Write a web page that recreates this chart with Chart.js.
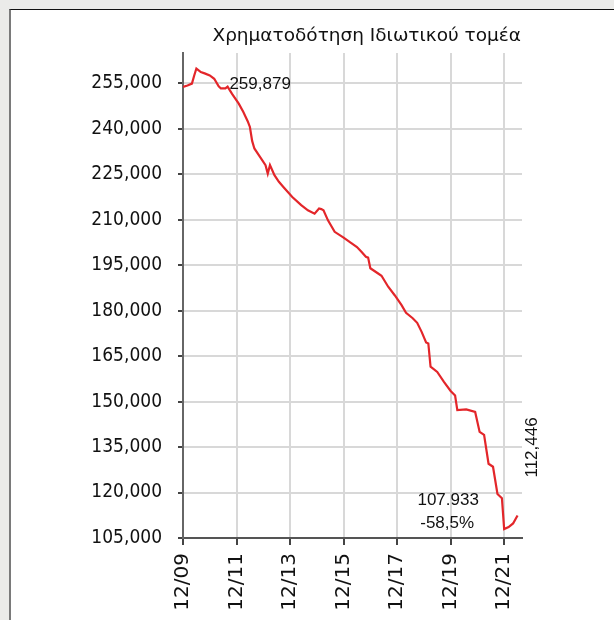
<!DOCTYPE html>
<html>
  <head>
    <meta charset="utf-8">
    <script src="https://cdn.jsdelivr.net/npm/chart.js@4.4.0/dist/chart.umd.min.js"></script>
    <style>
      body { margin: 0; background: #ebebe9; overflow: hidden; }
      #panel { position: absolute; left: 9px; top: 9px; right: 0; bottom: 0; background: #fff;
               border-left: 2px solid #7a7a7a; border-top: 1px solid #111; }
      #wrap { position: absolute; left: 0; top: 0; width: 614px; height: 620px; }
    </style>
  </head>

  <body>
    <div id="panel"></div>
    <div id="wrap">
      <canvas id="canvas" width="614" height="620"></canvas>
    </div>
    <script>
      // credit to the private sector, million euro
      const months = [
        '2009-12', '2010-02', '2010-04', '2010-05', '2010-06', '2010-08', '2010-10', '2010-12',
        '2011-02', '2011-04', '2011-05', '2011-07', '2011-08', '2011-10', '2012-01', '2012-03',
        '2012-05', '2012-06', '2012-07', '2012-08', '2012-10', '2013-01', '2013-02', '2013-03',
        '2013-05', '2013-07', '2013-09', '2014-01', '2014-05', '2014-08', '2014-11', '2015-01',
        '2015-02', '2015-03', '2015-05', '2015-08', '2015-12', '2016-03', '2016-06', '2016-08',
        '2016-10', '2016-11', '2016-12', '2017-03', '2017-05', '2017-08', '2017-11', '2018-02',
        '2018-04', '2018-07', '2018-09', '2018-11', '2019-01', '2019-02', '2019-03', '2019-06',
        '2019-09', '2019-12', '2020-02', '2020-03', '2020-07', '2020-11', '2021-01', '2021-03',
        '2021-05', '2021-07', '2021-09', '2021-11', '2021-12', '2022-02', '2022-04', '2022-06',
      ];
      const credit = [
        253800, 254300, 254900, 257500, 259879, 258700, 258200, 257600,
        256500, 254000, 253300, 253300, 253900, 251500, 248300, 245600,
        242500, 240600, 236000, 233500, 231300, 228000, 225200, 228000,
        224700, 222500, 220800, 217500, 214800, 213100, 212000, 213700,
        213500, 213100, 209800, 206000, 204100, 202500, 201000, 199400,
        197800, 197500, 194000, 192500, 191500, 187900, 185000, 181800,
        179300, 177500, 176000, 173000, 169500, 169200, 161500, 159800,
        156500, 153500, 152000, 147200, 147400, 146600, 140000, 139000,
        129500, 128500, 119500, 118100, 107933, 108600, 109800, 112446,
      ];
      const xTickMonths = ['2009-12', '2011-12', '2013-12', '2015-12', '2017-12', '2019-12', '2021-12'];
      const yTicks = [105000, 120000, 135000, 150000, 165000, 180000, 195000, 210000, 225000, 240000, 255000];
      const title = 'Χρηματοδότηση Ιδιωτικού τομέα';
      const peakText = '259,879';
      const lowText = ['107.933', '-58,5%'];
      const lastText = '112,446';

      function monthIndex(s) {
        const [y, m] = s.split('-').map(Number);
        return (y - 2009) * 12 + (m - 12);
      }
      function monthLabel(idx) {
        const total = 2009 * 12 + 11 + idx;
        const y = Math.floor(total / 12), m = (total % 12) + 1;
        return String(m).padStart(2, '0') + '/' + String(y % 100).padStart(2, '0');
      }

      const points = months.map((d, i) => ({ x: monthIndex(d), y: credit[i] }));
      const peakIdx = credit.indexOf(Math.max(...credit));
      const lowIdx = credit.indexOf(Math.min(...credit));
      const lastIdx = credit.length - 1;

      const textColor = '#111';

      // title and value labels
      const notes = {
        id: 'notes',
        afterDatasetsDraw(chart) {
          const { ctx, chartArea, scales } = chart;
          const px = (i) => scales.x.getPixelForValue(points[i].x);
          const py = (i) => scales.y.getPixelForValue(points[i].y);
          ctx.save();
          ctx.fillStyle = textColor;
          ctx.textBaseline = 'alphabetic';

          ctx.font = '18.5px "DejaVu Sans"';
          ctx.textAlign = 'right';
          ctx.fillText(title, chartArea.right - 1, 41);

          ctx.font = '17px "Liberation Sans"';
          ctx.textAlign = 'left';
          ctx.fillText(peakText, px(peakIdx) + 33, py(peakIdx) + 20);

          ctx.textAlign = 'center';
          ctx.fillText(lowText[0], px(lowIdx) - 56, py(lowIdx) - 24);
          ctx.fillText(lowText[1], px(lowIdx) - 57, py(lowIdx) - 1);

          ctx.translate(px(lastIdx) + 15, py(lastIdx) - 68);
          ctx.rotate(-Math.PI / 2);
          ctx.textBaseline = 'middle';
          ctx.fillText(lastText, 0, 0);
          ctx.restore();
        },
      };

      new Chart(document.getElementById('canvas').getContext('2d'), {
        type: 'line',
        data: {
          datasets: [
            {
              data: points,
              borderColor: '#e3262a',
              borderWidth: 2.2,
              pointRadius: 0,
              tension: 0,
              fill: false,
            },
          ],
        },
        options: {
          responsive: false,
          animation: false,
          layout: {
            padding: { top: 53, right: 92, bottom: 0, left: 0 },
          },
          plugins: {
            legend: { display: false },
            tooltip: { enabled: false },
          },
          scales: {
            x: {
              type: 'linear',
              min: 0,
              max: 152,
              afterBuildTicks: (s) => {
                s.ticks = xTickMonths.map((d) => ({ value: monthIndex(d) }));
              },
              afterFit: (s) => {
                s.height = 82;
              },
              ticks: {
                autoSkip: false,
                minRotation: 90,
                maxRotation: 90,
                padding: 8,
                color: textColor,
                font: { family: 'DejaVu Sans', size: 20 },
                callback: (v) => monthLabel(v),
              },
              grid: { color: '#d8d8d8', lineWidth: 2, tickLength: 7, tickColor: '#444', tickWidth: 2 },
              border: { color: '#555', width: 2 },
            },
            y: {
              min: 105000,
              max: 265000,
              afterBuildTicks: (s) => {
                s.ticks = yTicks.map((v) => ({ value: v }));
              },
              afterFit: (s) => {
                s.width = 183;
              },
              ticks: {
                padding: 16,
                color: textColor,
                font: { family: 'DejaVu Sans Condensed', size: 19 },
                callback: (v) => v.toLocaleString('en-US'),
              },
              grid: { color: '#d8d8d8', lineWidth: 2, tickLength: 5, tickColor: '#444', tickWidth: 2 },
              border: { color: '#666', width: 2 },
            },
          },
        },
        plugins: [notes],
      });
    </script>
  </body>
</html>
